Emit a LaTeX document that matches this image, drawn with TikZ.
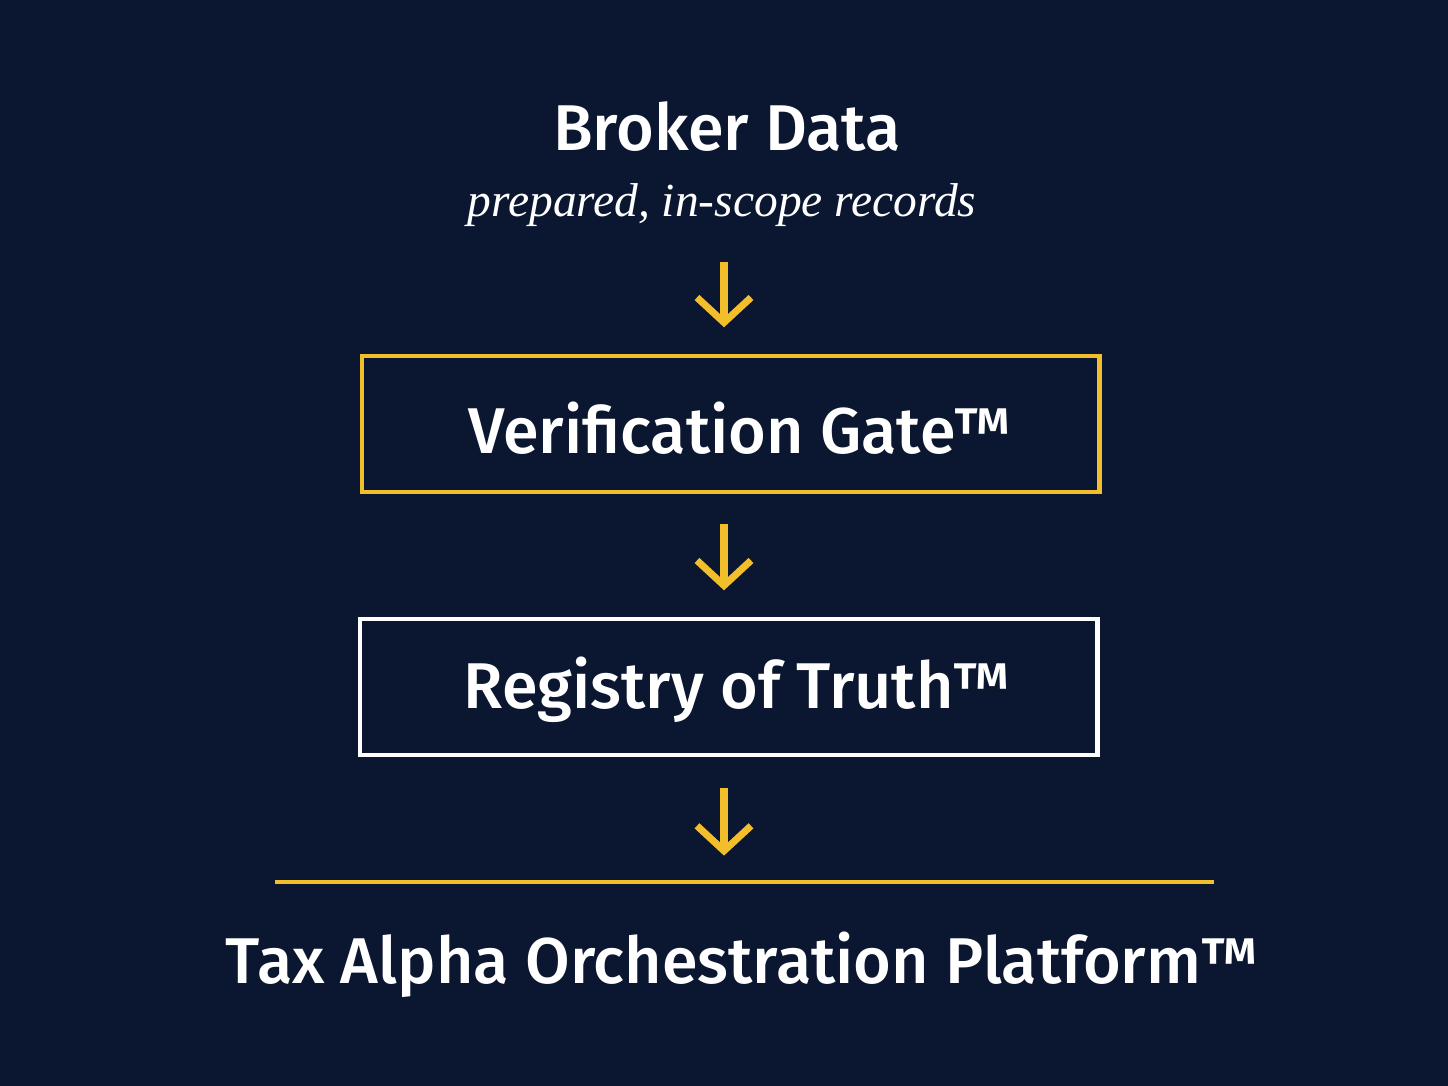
\documentclass[tikz,border=0pt]{standalone}
\usepackage{fontspec}
\setmainfont{Liberation Serif}
\newfontfamily\headfont{Fira Sans}[UprightFont=* Medium]
\usetikzlibrary{arrows.meta}
\definecolor{navy}{HTML}{0B1630}
\definecolor{gold}{HTML}{F2BE2A}
\tikzset{
  title/.style={text=white, font=\headfont\fontsize{18.4}{22}\selectfont, inner sep=0pt},
  stage/.style={draw=#1, line width=1.3pt, minimum width=7.37cm, minimum height=1.36cm, inner sep=0pt},
  flow/.style={draw=gold, line width=2pt, -{Straight Barb[length=2.5mm,width=5.4mm,line width=2pt]}}
}
\begin{document}
\begin{tikzpicture}[x=0.01cm,y=-0.01cm]
\fill[navy] (0,0) rectangle (1448,1086);
\useasboundingbox (0,0) rectangle (1448,1086);
\node[title] (broker) at (727,127) {Broker Data};
\node[text=white, font=\itshape\fontsize{13.5}{16}\selectfont, inner sep=0pt] (scope) at (722,205) {prepared, in-scope records};
\node[stage=gold] (gate) at (730.5,424) {};
\node[title] (gatetxt) at (740,428) {Verification Gate™};
\node[stage=white] (registry) at (728.5,687) {};
\node[title] (regtxt) at (737,690) {Registry of Truth™};
\coordinate (lineL) at (275,882);
\coordinate (lineR) at (1214,882);
\coordinate (lineM) at (724,882);
\draw[gold, line width=1.3pt] (lineL) -- (lineR);
\node[title] (platform) at (742,965) {Tax Alpha Orchestration Platform™};
% arrows between stages
\draw[flow] ([yshift=-10pt]scope.south -| lineM) -- ([yshift=7.5pt]gate.north -| lineM);
\draw[flow] ([yshift=-8.5pt]gate.south -| lineM) -- ([yshift=7.5pt]registry.north -| lineM);
\draw[flow] ([yshift=-8.7pt]registry.south -| lineM) -- ([yshift=7.5pt]lineM);
\end{tikzpicture}
\end{document}
